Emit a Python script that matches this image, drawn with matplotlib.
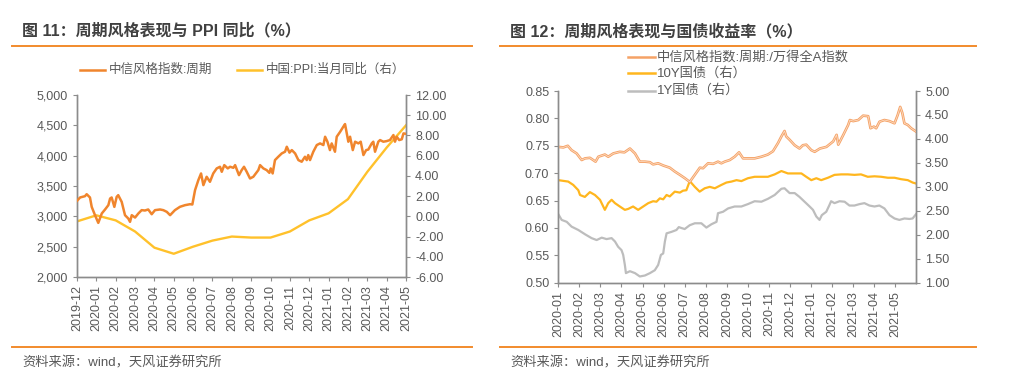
import matplotlib
matplotlib.use("Agg")
import matplotlib.pyplot as plt
import numpy as np

plt.rcParams['font.family'] = ['Liberation Sans', 'Noto Sans CJK SC', 'DejaVu Sans']

# ---------------- data: figure 11 ----------------
# x = months since 2019-12 (0 = 2019-12, 17 = 2021-05)
left_months = ['2019-12', '2020-01', '2020-02', '2020-03', '2020-04', '2020-05',
               '2020-06', '2020-07', '2020-08', '2020-09', '2020-10', '2020-11',
               '2020-12', '2021-01', '2021-02', '2021-03', '2021-04', '2021-05']
ppi_yoy = [-0.5, 0.1, -0.4, -1.5, -3.1, -3.7, -3.0, -2.4, -2.0, -2.1, -2.1, -1.5,
           -0.4, 0.3, 1.7, 4.4, 6.8, 9.0]

cyc_t = [0.0, 0.16, 0.41, 0.50, 0.67, 0.76, 0.93, 1.10, 1.28, 1.45, 1.62, 1.71, 1.79,
         1.93, 2.05, 2.13, 2.31, 2.48, 2.65, 2.74, 2.83, 3.00, 3.17, 3.34, 3.51, 3.68,
         3.86, 4.03, 4.29, 4.46, 4.64, 4.81, 5.06, 5.32, 5.58, 5.84, 5.96, 6.10, 6.27,
         6.41, 6.53, 6.70, 6.87, 7.04, 7.22, 7.39, 7.48, 7.61, 7.79, 7.91, 8.08, 8.17,
         8.37, 8.51, 8.63, 8.77, 8.94, 9.11, 9.37, 9.46, 9.63, 9.80, 9.94, 10.01, 10.11,
         10.23, 10.40, 10.58, 10.75, 10.84, 10.98, 11.10, 11.27, 11.44, 11.61, 11.78,
         11.87, 11.95, 12.04, 12.21, 12.39, 12.56, 12.73, 12.82, 12.94, 13.07, 13.16,
         13.33, 13.42, 13.60, 13.76, 13.85, 13.94, 14.02, 14.11, 14.25, 14.37, 14.54,
         14.66, 14.80, 14.94, 15.05, 15.23, 15.31, 15.40, 15.57, 15.66, 15.83, 16.00,
         16.17, 16.35, 16.43, 16.52, 16.65, 16.78, 16.87, 17.00]
cyc_idx = [3255, 3311, 3332, 3365, 3311, 3156, 3019, 2892, 3047, 3113, 3184, 3294, 3311,
           3156, 3321, 3349, 3238, 3019, 2964, 2909, 3019, 2980, 3047, 3102, 3096, 3113,
           3035, 3102, 3113, 3102, 3074, 3019, 3102, 3157, 3184, 3200, 3195, 3432, 3597,
           3707, 3514, 3652, 3569, 3707, 3790, 3817, 3734, 3844, 3790, 3817, 3800, 3844,
           3679, 3762, 3817, 3734, 3624, 3652, 3762, 3844, 3790, 3762, 3717, 3790, 3707,
           3927, 3982, 4037, 4065, 4147, 4050, 4092, 4037, 3927, 3900, 3982,
           3927, 4010, 3927, 4065, 4175, 4202, 4175, 4312, 4230, 4092, 4202,
           4065, 4312, 4395, 4477, 4521, 4367, 4230, 4312, 4092, 4230, 4202,
           4230, 4010, 4092, 4100, 4202, 4230, 4065, 4230, 4257, 4230, 4240,
           4257, 4340, 4230, 4312, 4257, 4270, 4367, 4360]

# ---------------- data: figure 12 ----------------
# x = months since 2020-01
right_months = ['2020-01', '2020-02', '2020-03', '2020-04', '2020-05', '2020-06',
                '2020-07', '2020-08', '2020-09', '2020-10', '2020-11', '2020-12',
                '2021-01', '2021-02', '2021-03', '2021-04', '2021-05']

ratio_t = [0.0, 0.24, 0.45, 0.63, 0.87, 1.11, 1.27, 1.50, 1.77, 1.90, 2.21, 2.37, 2.61,
           2.92, 3.14, 3.40, 3.64, 3.87, 4.11, 4.35, 4.50, 4.74, 4.98, 5.29, 5.53, 5.77,
           6.00, 6.24, 6.48, 6.72, 6.87, 7.11, 7.35, 7.58, 7.74, 7.90, 8.14, 8.37, 8.58,
           8.77, 9.00, 9.32, 9.64, 9.95, 10.19, 10.43, 10.59, 10.74, 10.82, 10.98, 11.22,
           11.45, 11.61, 11.77, 12.01, 12.17, 12.42, 12.73, 13.05, 13.21, 13.29, 13.53,
           13.76, 13.84, 14.00, 14.24, 14.47, 14.71, 14.82, 14.98, 15.09, 15.25, 15.48,
           15.72, 15.96, 16.11, 16.23, 16.33, 16.43, 16.59, 16.75, 16.98]
ratio = [0.748, 0.747, 0.750, 0.742, 0.736, 0.724, 0.727, 0.728, 0.721, 0.730, 0.734,
         0.730, 0.736, 0.739, 0.738, 0.745, 0.736, 0.721, 0.721, 0.720, 0.716, 0.718,
         0.714, 0.710, 0.703, 0.697, 0.691, 0.684, 0.697, 0.710, 0.709, 0.718, 0.717,
         0.721, 0.718, 0.721, 0.724, 0.730, 0.738, 0.727, 0.727, 0.727, 0.730, 0.734,
         0.740, 0.755, 0.767, 0.777, 0.767, 0.761, 0.751, 0.745, 0.751, 0.752, 0.742,
         0.739, 0.745, 0.748, 0.758, 0.770, 0.752, 0.770, 0.788, 0.797, 0.795, 0.797,
         0.805, 0.804, 0.782, 0.785, 0.782, 0.794, 0.797, 0.795, 0.791, 0.806, 0.821,
         0.810, 0.791, 0.788, 0.782, 0.776]

y10_t = [0.0, 0.47, 0.71, 0.95, 1.03, 1.26, 1.50, 1.74, 1.98, 2.21, 2.37, 2.53, 2.69,
         2.92, 3.16, 3.32, 3.55, 3.79, 4.03, 4.27, 4.50, 4.66, 4.82, 4.98, 5.14, 5.29,
         5.53, 5.77, 5.92, 6.08, 6.24, 6.48, 6.71, 6.95, 7.19, 7.43, 7.74, 7.98, 8.22,
         8.46, 8.69, 9.00, 9.32, 9.64, 9.95, 10.27, 10.59, 10.90, 11.22, 11.54, 11.77,
         12.01, 12.25, 12.48, 12.80, 13.11, 13.43, 13.74, 14.06, 14.37, 14.69, 15.01,
         15.33, 15.64, 15.96, 16.27, 16.59, 16.82, 16.98]
y10 = [3.14, 3.11, 3.04, 2.93, 2.83, 2.79, 2.89, 2.83, 2.73, 2.52, 2.66, 2.73, 2.66,
       2.59, 2.52, 2.54, 2.59, 2.52, 2.59, 2.66, 2.70, 2.69, 2.76, 2.74, 2.83, 2.80,
       2.90, 2.88, 2.92, 2.93, 3.12, 3.00, 2.90, 2.97, 3.00, 2.97, 3.04, 3.09, 3.11,
       3.14, 3.12, 3.18, 3.21, 3.21, 3.21, 3.26, 3.33, 3.28, 3.28, 3.28, 3.21,
       3.14, 3.18, 3.14, 3.19, 3.25, 3.26, 3.26, 3.25, 3.26, 3.21, 3.22,
       3.21, 3.19, 3.19, 3.16, 3.14, 3.09, 3.07]

y1_t = [0.0, 0.16, 0.40, 0.63, 0.95, 1.27, 1.58, 1.82, 2.06, 2.29, 2.53, 2.69, 2.84,
        3.00, 3.08, 3.16, 3.21, 3.40, 3.64, 3.87, 4.11, 4.35, 4.58, 4.74, 4.87, 4.98,
        5.06, 5.14, 5.37, 5.61, 5.72, 5.85, 6.00, 6.24, 6.48, 6.79, 7.03, 7.27, 7.51,
        7.58, 7.82, 8.06, 8.37, 8.69, 9.00, 9.32, 9.64, 9.95, 10.27, 10.59, 10.74,
        10.98, 11.22, 11.45, 11.69, 11.93, 12.09, 12.25, 12.40, 12.51, 12.72, 12.87,
        12.95, 13.11, 13.35, 13.59, 13.82, 14.06, 14.30, 14.53, 14.77, 15.01, 15.24,
        15.48, 15.72, 15.96, 16.19, 16.43, 16.67, 16.82, 16.98]
y1 = [2.43, 2.31, 2.27, 2.17, 2.10, 2.01, 1.93, 1.89, 1.94, 1.91, 1.93, 1.86, 1.75,
      1.68, 1.58, 1.37, 1.20, 1.24, 1.20, 1.13, 1.15, 1.20, 1.26, 1.37, 1.58, 1.61,
      1.86, 2.03, 2.06, 2.10, 2.16, 2.14, 2.12, 2.20, 2.24, 2.24, 2.15, 2.22, 2.27,
      2.45, 2.48, 2.55, 2.59, 2.59, 2.64, 2.70, 2.69, 2.75, 2.83, 2.96, 2.97,
      2.87, 2.87, 2.79, 2.69, 2.59, 2.52, 2.38, 2.31, 2.41, 2.48, 2.62,
      2.70, 2.66, 2.70, 2.69, 2.61, 2.61, 2.64, 2.66, 2.61, 2.59, 2.61,
      2.55, 2.41, 2.34, 2.31, 2.34, 2.33, 2.34, 2.43]

# ---------------- styling ----------------
ORANGE = '#F0852D'
GOLD = '#FFC12B'
LIGHT_OR = '#F5A266'
GOLD2 = '#FFB61E'
GREY = '#BDBDBD'
TXT = '#595959'
SPINE = '#8C8C8C'
TICK_FS = 9

fig = plt.figure(figsize=(10.24, 3.85), dpi=100)


def style_axes(ax, ax2):
    for a in (ax, ax2):
        a.spines['top'].set_visible(False)
        for s in ('left', 'right', 'bottom'):
            a.spines[s].set_color(SPINE)
            a.spines[s].set_linewidth(1.0)
        a.tick_params(colors=SPINE, labelcolor=TXT, labelsize=TICK_FS,
                      direction='out', length=3, width=0.8)
    ax.tick_params(axis='x', labelrotation=90, pad=3)


# ---- figure 11 ----
ax = fig.add_axes([77 / 1024, 1 - 277 / 385, 329 / 1024, 182 / 385])
ax2 = ax.twinx()
ax.plot(cyc_t, cyc_idx, color=ORANGE, lw=1.8, zorder=3)
ax2.plot(range(len(ppi_yoy)), ppi_yoy, color=GOLD, lw=1.7)
ax.set_zorder(ax2.get_zorder() + 1)
ax.patch.set_visible(False)
ax.set_xlim(0, 17)
ax.set_ylim(2000, 5000)
ax.set_yticks(np.arange(2000, 5001, 500))
ax.set_yticklabels([f'{v:,}' for v in range(2000, 5001, 500)])
ax2.set_ylim(-6, 12)
ax2.set_yticks(np.arange(-6, 12.1, 2))
ax2.set_yticklabels([f'{v:.2f}' for v in np.arange(-6, 12.1, 2)])
ax.set_xticks(range(len(left_months)))
ax.set_xticklabels(left_months)
style_axes(ax, ax2)

# ---- figure 12 ----
bx = fig.add_axes([558.3 / 1024, 1 - 282.7 / 385, 357.7 / 1024, 191.7 / 385])
bx2 = bx.twinx()
bx2.plot(y10_t, y10, color=GOLD2, lw=1.6)
bx2.plot(y1_t, y1, color=GREY, lw=1.6)
bx.plot(ratio_t, ratio, color=LIGHT_OR, lw=1.9)
bx.plot(ratio_t, ratio, color='#FCDCC4', lw=0.6)
bx.set_zorder(bx2.get_zorder() + 1)
bx.patch.set_visible(False)
bx.set_xlim(0, 16.98)
bx.set_ylim(0.5, 0.85)
bx.set_yticks(np.arange(0.5, 0.851, 0.05))
bx.set_yticklabels([f'{v:.2f}' for v in np.arange(0.5, 0.851, 0.05)])
bx2.set_ylim(1, 5)
bx2.set_yticks(np.arange(1, 5.01, 0.5))
bx2.set_yticklabels([f'{v:.2f}' for v in np.arange(1, 5.01, 0.5)])
bx.set_xticks(range(len(right_months)))
bx.set_xticklabels(right_months)
style_axes(bx, bx2)

# ---- titles, rules, sources, legends (figure coords in pixels) ----
W, H = 1024, 385


def fx(px):
    return px / W


def fy(py):
    return 1 - py / H


TITLE_C = '#404040'
fig.text(fx(22), fy(31), '图 11：周期风格表现与 PPI 同比（%）', fontsize=11.5,
         fontweight='bold', color=TITLE_C, va='center')
fig.text(fx(510), fy(31), '图 12：周期风格表现与国债收益率（%）', fontsize=11.5,
         fontweight='bold', color=TITLE_C, va='center')
for x0, x1 in ((12, 472), (500, 976)):
    for yy in (46, 346.5):
        fig.add_artist(plt.Line2D([fx(x0), fx(x1)], [fy(yy), fy(yy)],
                                  color='#F28B2C', lw=1.4))
fig.text(fx(22), fy(363), '资料来源：wind，天风证券研究所', fontsize=9.5,
         color=TXT, va='center')
fig.text(fx(510), fy(363), '资料来源：wind，天风证券研究所', fontsize=9.5,
         color=TXT, va='center')

legend_left = [(80, 105, 109, ORANGE, '中信风格指数:周期'),
               (237, 262, 266, GOLD, '中国:PPI:当月同比（右）')]
for x0, x1, xt, col, lab in legend_left:
    fig.add_artist(plt.Line2D([fx(x0), fx(x1)], [fy(70), fy(70)], color=col, lw=1.8))
    fig.text(fx(xt), fy(70), lab, fontsize=9, color=TXT, va='center')

legend_right = [(57, LIGHT_OR, '中信风格指数:周期:/万得全A指数'),
                (73, GOLD2, '10Y国债（右）'),
                (90.5, GREY, '1Y国债（右）')]
for yy, col, lab in legend_right:
    fig.add_artist(plt.Line2D([fx(628), fx(655)], [fy(yy), fy(yy)], color=col, lw=1.8))
    fig.text(fx(657), fy(yy), lab, fontsize=9.5, color=TXT, va='center')

fig.savefig('out.png', dpi=100)
